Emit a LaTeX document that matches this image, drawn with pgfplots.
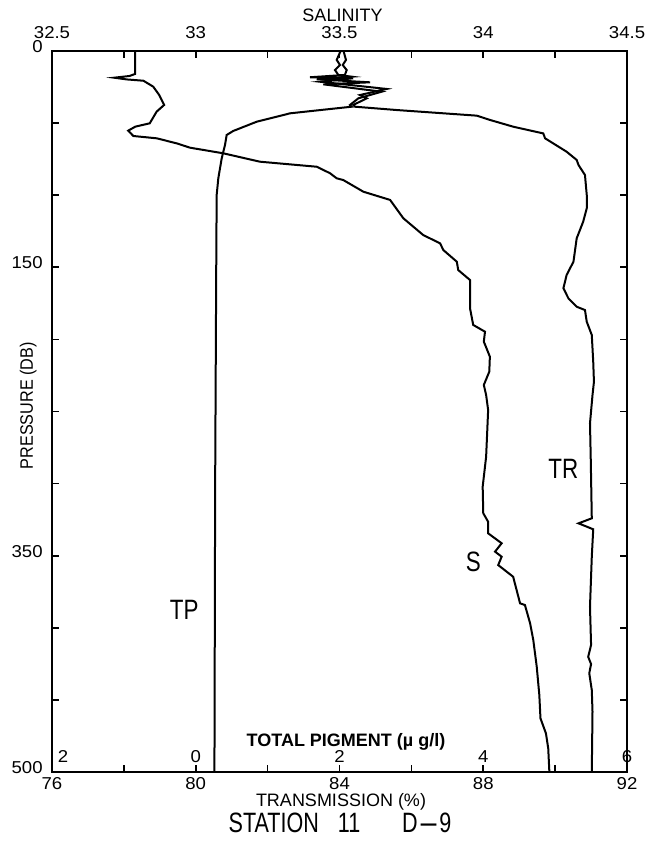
\documentclass[border=0pt]{standalone}
\usepackage{fontspec}
\setmainfont{Liberation Sans}
\newfontfamily\condfont{Liberation Sans}[FakeStretch=0.9]
\newfontfamily\labfont{Liberation Sans}[FakeStretch=0.8]
\newfontfamily\stfont{Liberation Sans}[FakeStretch=0.77]
\newfontfamily\digfont{Liberation Sans}[FakeStretch=1.08]
\usepackage{graphicx}
\usepackage{pgfplots}
\pgfplotsset{compat=1.18}
\usepackage{pgfplotstable}

% Salinity (top axis) vs pressure
\pgfplotstableread{
P S
0 32.789
16.1 32.789
17.5 32.77
18.7 32.716
19.9 32.76
20.8 32.818
24.9 32.852
30.7 32.873
37.6 32.89
42.2 32.864
50.3 32.84
52.6 32.79
55.4 32.765
59.1 32.783
60.7 32.864
64.2 32.934
67.2 32.98
71.1 33.096
76.9 33.223
80.4 33.421
84.9 33.467
88.4 33.49
89.6 33.513
97.7 33.583
103.4 33.676
116.1 33.722
127.7 33.791
133.5 33.85
138.1 33.861
146.2 33.908
152 33.913
158.9 33.954
178.5 33.954
190 33.965
194.7 34.006
201.6 34.002
212 34.023
222.4 34.021
231.6 34.002
238.6 34.01
249 34.017
281.3 34.01
302.1 33.998
320.5 34.0
326.4 34.017
334.4 34.017
341.3 34.064
347.1 34.041
350.6 34.064
356.4 34.052
364.5 34.104
373.7 34.116
382.9 34.128
384.1 34.145
396.8 34.163
408.3 34.174
426.8 34.186
446.4 34.195
462.6 34.199
473 34.218
483.4 34.226
500 34.23
}\salinity

% Transmission (bottom axis) vs pressure
\pgfplotstableread{
P T
0 84.11
6.4 84.18
9.9 84.09
13.4 84.2
16.8 84.15
18.4 83.18
19.1 84.38
21.5 83.46
26.5 85.31
30.7 84.57
33 84.76
37.6 84.38
38.8 84.43
41.1 85.59
45 87.82
48 88.19
52.7 88.84
57.3 89.67
60.7 89.72
70 90.32
75.7 90.6
79.2 90.65
86.1 90.83
100 90.88
109.2 90.88
118.5 90.78
130 90.6
146.2 90.51
155.4 90.32
164.6 90.23
171.6 90.37
177.4 90.6
179.7 90.83
187.8 90.88
197 91.02
215.5 91.06
229.4 91.08
238.6 91.04
258.2 90.97
281.3 90.99
324 91.02
327.5 90.65
331.6 91.06
350.6 91.02
385.3 90.97
411.8 91.0
420 90.92
425 91.0
431.4 90.95
443 91.02
458 91.04
500 91.02
}\transmission

% Total pigment (inner bottom scale) vs pressure
\pgfplotstableread{
P G
0 2.017
6.4 1.961
9.9 2.007
13.4 1.937
16.8 1.984
18 2.17
19.8 1.683
21.9 2.424
23.3 1.775
28.4 2.587
33 2.262
37.6 2.146
38.8 2.17
40.9 1.775
43.4 1.31
44.6 1.218
49.2 0.848
55.6 0.522
58.4 0.43
65.3 0.407
74.6 0.361
88.4 0.314
100 0.291
150 0.285
300 0.27
500 0.26
}\pigment

\begin{document}
\begin{tikzpicture}
\path[use as bounding box] (-26pt,-36.35pt) rectangle (299.5pt,386.15pt);
\pgfplotsset{
  myaxis/.style={
    at={(0pt,0pt)}, anchor=south west,
    scale only axis, width=287.5pt, height=360.8pt,
    ymin=0, ymax=500, y dir=reverse,
    axis line style={line width=1pt},
    tick style={line width=0.8pt, black},
    major tick length=3.5pt,
    tick align=inside,
    every tick label/.append style={font=\digfont\fontsize{8.6}{10}\selectfont, inner sep=0pt},
  }
}
% Transmission axis (bottom) with pressure ticks
\begin{axis}[myaxis,
  xmin=76, xmax=92,
  xtick={76,78,80,82,84,86,88,90,92},
  xticklabels={76,,80,,84,,88,,92},
  xtick pos=bottom, xticklabel pos=bottom,
  xticklabel style={anchor=north, yshift=-2.2pt},
  ytick={0,50,100,150,200,250,300,350,400,450,500},
  yticklabels={\raisebox{-1.6pt}{0},,,150,,,,350,,,500},
  ytick pos=both, yticklabel pos=left,
  yticklabel style={anchor=south east, xshift=-4.5pt, yshift=-1pt},
]
\addplot[line width=1pt, black] table[x=T, y=P]{\transmission};
\end{axis}
% Salinity axis (top)
\begin{axis}[myaxis,
  xmin=32.5, xmax=34.5,
  xtick={32.5,32.75,33,33.25,33.5,33.75,34,34.25,34.5},
  xticklabels={32.5,,33,,33.5,,34,,34.5},
  xtick pos=top, xticklabel pos=top,
  xticklabel style={anchor=south, yshift=6pt},
  ytick=\empty,
]
\addplot[line width=1pt, black] table[x=S, y=P]{\salinity};
\end{axis}
% Total pigment axis (labels inside bottom)
\begin{axis}[myaxis,
  xmin=-2, xmax=6,
  xtick={-2,0,2,4,6},
  xticklabels={\hspace{11pt}2,0,2,4,6\hspace{13pt}},
  major tick length=0pt,
  xtick pos=bottom, xticklabel pos=bottom,
  xticklabel style={anchor=south, yshift=4.65pt},
  ytick=\empty,
]
\addplot[line width=1pt, black] table[x=G, y=P]{\pigment};
\end{axis}

% Axis titles and labels
\node[font=\fontsize{9}{10}\selectfont, anchor=base, inner sep=0pt] at (145.25pt,375.2pt) {SALINITY};
\node[font=\fontsize{9}{10}\selectfont, anchor=base, inner sep=0pt] at (144.5pt,-17.1pt) {TRANSMISSION (\%)};
\node[font=\stfont\fontsize{14}{16}\selectfont, anchor=base, inner sep=0pt] at (144pt,-30.35pt) {STATION\hspace{6.5pt} 11\hspace{18pt} D\scalebox{3}[1]{-}9};
\node[font=\condfont\fontsize{9}{10}\selectfont, anchor=base, rotate=90, inner sep=0pt] at (-9.5pt,183.3pt) {PRESSURE (DB)};
\node[font=\bfseries\fontsize{9}{10}\selectfont, anchor=base, inner sep=0pt] at (147pt,12.65pt) {TOTAL PIGMENT (µ g/l)};
% Curve labels
\node[font=\labfont\fontsize{14}{16}\selectfont, anchor=base, inner sep=0pt] at (255.65pt,147pt) {TR};
\node[font=\labfont\fontsize{14}{16}\selectfont, anchor=base, inner sep=0pt] at (210.65pt,100.3pt) {S};
\node[font=\labfont\fontsize{14}{16}\selectfont, anchor=base, inner sep=0pt] at (66.1pt,76.15pt) {TP};
\end{tikzpicture}
\end{document}
